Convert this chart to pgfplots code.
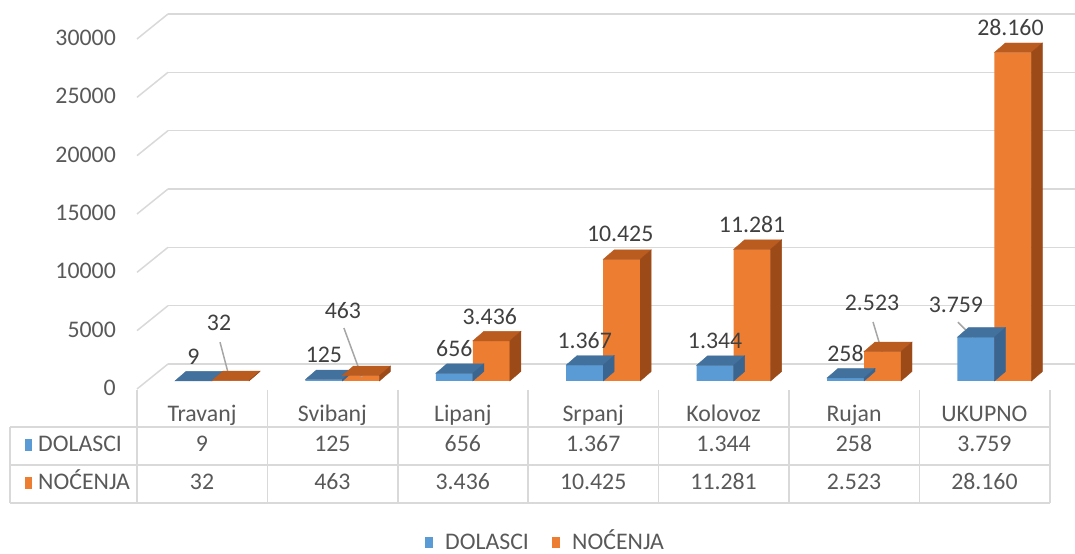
\documentclass[border=0pt]{standalone}
\usepackage{pgfplots}
\pgfplotsset{compat=1.18}
\usepackage{pgfplotstable}
\usepackage{fontspec}
\setmainfont{Carlito}
\definecolor{cblue}{HTML}{5B9BD5}
\definecolor{cbluetop}{HTML}{41719C}
\definecolor{cblueside}{HTML}{3A6591}
\definecolor{corange}{HTML}{ED7D31}
\definecolor{corangetop}{HTML}{BA5B20}
\definecolor{corangeside}{HTML}{9C4B18}
\definecolor{gridc}{HTML}{D9D9D9}
\definecolor{txt}{HTML}{595959}
\definecolor{lbl}{HTML}{404040}
\definecolor{leader}{HTML}{A6A6A6}

% x: category, d: DOLASCI, n: NOCENJA, label offsets (bp)
\pgfplotstableread{
x d n xd yd xn yn
0 9 32 0 24.5 -11.5 57.5
1 125 463 0 24.5 -18 65.5
2 656 3436 0 24.5 -1.5 24.5
3 1367 10425 0 24.5 -1.5 25.5
4 1344 11281 0 24.5 0 24.5
5 258 2523 0 24.5 -10.5 48.5
6 3759 28160 -20 32 -2.5 24.5
}\data

\begin{document}
\fontsize{23.8bp}{28bp}\selectfont
\begin{tikzpicture}[x=1bp,y=1bp]
\useasboundingbox (0,0) rectangle (1075,554);
% back wall with gridlines
\begin{axis}[at={(168bp,190bp)}, anchor=south west, scale only axis,
  width=907bp, height=350bp, xmin=0, xmax=1, ymin=0, ymax=30000,
  xtick=\empty, ytick={0,5000,10000,15000,20000,25000,30000},
  scaled y ticks=false,
  /pgf/number format/1000 sep={}, /pgf/number format/assume math mode=true,
  yticklabel style={anchor=east, inner sep=0pt, xshift=-52bp, yshift=-24bp, text=txt},
  ymajorgrids, grid style={gridc, line width=1.5bp},
  axis line style={draw=none}, major tick length=0pt, clip=false]
\pgfplotsinvokeforeach{0,5000,10000,15000,20000,25000,30000}{
  \draw[gridc, line width=1.5bp] (axis cs:0,#1) -- ++(-31bp,-25bp);
}
\end{axis}
% table frame
\begin{scope}[gridc, line width=1.5bp]
\draw (10,127) -- (1049.8,127);
\draw (10,89) -- (1049.8,89);
\draw (10,51) -- (1049.8,51);
\draw (10,127) -- (10,51);
\foreach \i in {0,...,7} { \draw (137+130.4*\i,164) -- (137+130.4*\i,51); }
\end{scope}
\fill[cblue] (25,103) rectangle (32,115);
\node[anchor=base west, inner sep=0pt, text=txt] at (38,102) {DOLASCI};
\fill[corange] (25,65) rectangle (32,77);
\node[anchor=base west, inner sep=0pt, text=txt] at (38,64) {NOĆENJA};
% legend
\fill[cblue] (425,6) rectangle (433,17);
\node[anchor=base west, inner sep=0pt, text=txt] at (445,4.5) {DOLASCI};
\fill[corange] (552,6) rectangle (560,17);
\node[anchor=base west, inner sep=0pt, text=txt] at (572,4.5) {NOĆENJA};
% bars
\begin{axis}[at={(146.8bp,173bp)}, anchor=south west, scale only axis,
  width=912.8bp, height=350bp, xmin=-0.5, xmax=6.5, ymin=0, ymax=30000,
  clip=false, axis line style={draw=none}, major tick length=0pt,
  ytick=\empty, xtick={0,...,6},
  xticklabels={Travanj,Svibanj,Lipanj,Srpanj,Kolovoz,Rujan,UKUPNO},
  xticklabel style={anchor=base, inner sep=0pt, xshift=-10bp, yshift=-41bp, text=txt},
  /pgf/number format/fixed, /pgf/number format/1000 sep={.},
  /pgf/number format/assume math mode=true,
  point meta min=0, point meta max=30000]
% blue top/side faces
\addplot[forget plot, scatter, only marks, mark=*, mark size=0pt,
  mark options={draw=none, fill=none}, point meta=y,
  scatter/@pre marker code/.code={%
    \pgfmathsetmacro\hh{\pgfplotspointmetatransformed*0.35}%
    \fill[cbluetop] (-18.5bp,0pt) -- (-7.5bp,9.5bp) -- (29.5bp,9.5bp) -- (18.5bp,0pt) -- cycle;
    \fill[cblueside] (18.5bp,0pt) -- (29.5bp,9.5bp) -- (29.5bp,9.5bp-\hh bp) -- (18.5bp,-\hh bp) -- cycle;
  },
  scatter/@post marker code/.code={}]
  table[x expr=\thisrow{x}-0.14187, y=d] {\data};
\addplot[ybar, bar width=37bp, bar shift=-18.5bp, fill=cblue, draw=none]
  table[x=x, y=d] {\data};
% orange top/side faces
\addplot[forget plot, scatter, only marks, mark=*, mark size=0pt,
  mark options={draw=none, fill=none}, point meta=y,
  scatter/@pre marker code/.code={%
    \pgfmathsetmacro\hh{\pgfplotspointmetatransformed*0.35}%
    \fill[corangetop] (-18.5bp,0pt) -- (-7.5bp,9.5bp) -- (29.5bp,9.5bp) -- (18.5bp,0pt) -- cycle;
    \fill[corangeside] (18.5bp,0pt) -- (29.5bp,9.5bp) -- (29.5bp,9.5bp-\hh bp) -- (18.5bp,-\hh bp) -- cycle;
  },
  scatter/@post marker code/.code={}]
  table[x expr=\thisrow{x}+0.14187, y=n] {\data};
\addplot[ybar, bar width=37bp, bar shift=18.5bp, fill=corange, draw=none]
  table[x=x, y=n] {\data};
% leader lines
\draw[leader, line width=1.5bp] (axis cs:0.14187,32) ++(-0.5bp,0.5bp) -- ++(-10bp,38bp);
\draw[leader, line width=1.5bp] (axis cs:1.14187,463) ++(1bp,-1.4bp) -- ++(-18bp,49bp);
\draw[leader, line width=1.5bp] (axis cs:5.14187,2523) ++(-0.5bp,-0.4bp) -- ++(-9bp,30bp);
\draw[leader, line width=1.5bp] (axis cs:5.85813,3759) ++(-3bp,0bp) -- ++(-15bp,15bp);
% data labels
\addplot[forget plot, draw=none, mark=none, nodes near coords, point meta=explicit,
  every node near coord/.append style={anchor=center, inner sep=0pt, text=lbl}]
  table[x expr=\thisrow{x}-0.14187+\thisrow{xd}/130.4,
        y expr=\thisrow{d}+\thisrow{yd}*85.7143, meta=d] {\data};
\addplot[forget plot, draw=none, mark=none, nodes near coords, point meta=explicit,
  every node near coord/.append style={anchor=center, inner sep=0pt, text=lbl}]
  table[x expr=\thisrow{x}+0.14187+\thisrow{xn}/130.4,
        y expr=\thisrow{n}+\thisrow{yn}*85.7143, meta=n] {\data};
% table values
\addplot[forget plot, draw=none, mark=none, nodes near coords, point meta=explicit,
  every node near coord/.append style={anchor=base, inner sep=0pt, text=txt,
    xshift=-10bp, yshift=-71bp}]
  table[x=x, y expr=0, meta=d] {\data};
\addplot[forget plot, draw=none, mark=none, nodes near coords, point meta=explicit,
  every node near coord/.append style={anchor=base, inner sep=0pt, text=txt,
    xshift=-10bp, yshift=-109bp}]
  table[x=x, y expr=0, meta=n] {\data};
\end{axis}
\end{tikzpicture}
\end{document}
